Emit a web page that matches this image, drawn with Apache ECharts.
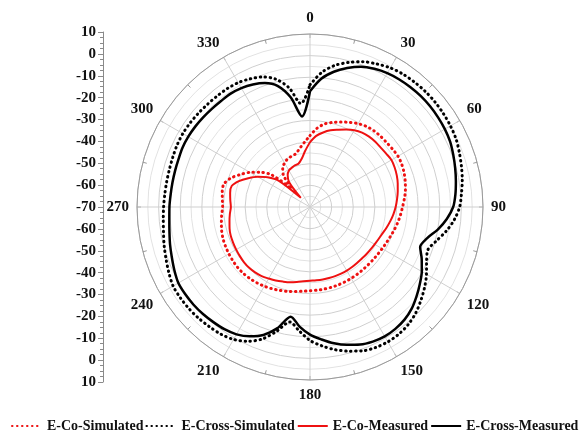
<!DOCTYPE html>
<html>
<head>
<meta charset="utf-8">
<script src="https://cdn.jsdelivr.net/npm/echarts@6/dist/echarts.min.js"></script>
<style>
  html, body { margin: 0; padding: 0; background: #fff; }
  #chart { width: 585px; height: 432px; }
</style>
</head>
<body>
<div id="chart"></div>
<script>
// angle in degrees, value in dB
const angles = [0, 5, 10, 15, 20, 25, 30, 35, 40, 45, 50, 55, 60, 65, 70, 75, 80, 85, 90,
    95, 100, 105, 110, 115, 120, 125, 130, 135, 140, 145, 150, 155, 160, 165, 170, 175, 180,
    185, 190, 195, 200, 205, 210, 215, 220, 225, 230, 235, 240, 245, 250, 255, 260, 265, 270,
    275, 280, 285, 290, 295, 300, 305, 310, 315, 320, 325, 330, 335, 340, 345, 350, 355, 360];

const eCoSimulated = [-37, -33.5, -31, -29.5, -28.2, -26.8, -25.5, -24.5, -24, -23.8, -23.7, -23.4, -23,
    -23.2, -23.7, -24.4, -25.2, -26.2, -27.2, -28, -28.8, -29.6, -30.4, -31, -31.5, -31.8, -32, -32.1,
    -32.1, -32, -31.9, -31.8, -31.7, -31.6, -31.5, -31.4, -31.3, -30.9, -30.3, -29.6, -29, -28.3, -27.7,
    -27.2, -26.8, -26.5, -26.4, -26.5, -26.7, -26.9, -27.2, -27.7, -28.4, -29, -29.6, -29.3, -28.8, -28.8,
    -31, -34.5, -38, -42, -47, -58, -51, -48, -46.5, -45.5, -45, -44.5, -42.5, -40, -37];

const eCrossSimulated = [-13.5, -7.5, -3.5, -0.8, 1.5, 3, 4.3, 5, 5.3, 5.5, 5.5, 5.3, 5, 4.5, 3.5, 2.5,
    1.5, 0.3, -0.8, -3, -6, -9.5, -12, -10.5, -7.8, -5.3, -3, -0.8, 0.8, 1.7, 2, 1.7, 0.8, -1, -3, -5.5,
    -8.3, -12.5, -16, -10.5, -5, -1.5, 0.7, 1.8, 2.3, 2.8, 3.1, 3.2, 3.1, 2, 0.8, -0.2, -1.2, -1.9, -2.3,
    -2.6, -2.7, -2.7, -2.5, -2.2, -2.1, -2.3, -2.6, -2.9, -3.1, -3.2, -3.6, -4.6, -6, -8.8, -14, -22, -13.5];

const eCoMeasured = [-40, -37, -35, -33.3, -32, -30.5, -29, -28, -27.5, -27.3, -27.3, -27, -26.5, -26.8,
    -27.3, -28, -28.8, -29.6, -30.4, -31.3, -32.3, -33.3, -34.3, -35, -35.5, -35.8, -36, -36.2, -36.2,
    -36.1, -36, -36, -36, -36, -36, -36, -35.9, -35.5, -34.8, -34, -33.3, -32.5, -31.8, -31, -30.5, -30.2,
    -30.2, -30.4, -30.6, -30.8, -31, -31.5, -32.2, -32.8, -33.4, -33, -32.5, -32.5, -35, -38.5, -42, -46,
    -51, -64, -55, -52, -50.5, -50, -49.5, -49.3, -47.5, -44, -40];

const eCrossMeasured = [-16.5, -10.5, -6.5, -3.5, -1, 0.5, 1.5, 2, 2.3, 2.5, 2.5, 2.3, 2, 1.5, 0.5, -0.5,
    -1.5, -2.5, -3.8, -6.5, -10, -14, -15.8, -13, -10.3, -8, -5.7, -3.5, -2, -1.2, -0.9, -1.3, -2.3, -4,
    -6, -8.5, -11, -14.5, -18.5, -12, -7, -4, -2, -1, -0.5, 0, 0.3, 0.4, 0.3, -0.8, -2, -3, -4, -4.7, -5,
    -5.3, -5.4, -5.4, -5.3, -5, -5, -5.2, -5.5, -5.8, -6, -6, -6.5, -7.5, -9, -12, -18.5, -28, -16.5];

const seriesNames = ['E-Co-Simulated', 'E-Cross-Simulated', 'E-Co-Measured', 'E-Cross-Measured'];

const serifFont = '"Liberation Serif", "Times New Roman", serif';
const red = '#ee1111';
const black = '#000000';

function polarPairs(values) {
    return values.map((v, i) => [v, angles[i]]);
}

function dottedSeries(name, values, color) {
    return {
        name: name,
        type: 'line',
        coordinateSystem: 'polar',
        smooth: 0.3,
        symbol: 'none',
        data: polarPairs(values),
        lineStyle: { color: color, width: 3, type: [0.5, 4.5], cap: 'round' },
        itemStyle: { color: color },
    };
}

function solidSeries(name, values, color, width) {
    return {
        name: name,
        type: 'line',
        coordinateSystem: 'polar',
        smooth: 0.3,
        symbol: 'none',
        data: polarPairs(values),
        lineStyle: { color: color, width: width },
        itemStyle: { color: color },
    };
}

const chart = echarts.init(document.getElementById('chart'), null, { renderer: 'canvas' });

const option = {
    animation: false,
    textStyle: { fontFamily: serifFont },
    polar: {
        center: [310, 207],
        radius: 173,
    },
    angleAxis: {
        type: 'value',
        min: 0,
        max: 360,
        interval: 30,
        startAngle: 90,
        clockwise: true,
        axisLine: { show: true, lineStyle: { color: '#9a9a9a', width: 1 } },
        axisTick: { show: true, inside: true, length: 4, lineStyle: { color: '#9a9a9a' } },
        minorTick: { show: true, splitNumber: 2, length: 4, lineStyle: { color: '#9a9a9a' } },
        axisLabel: {
            margin: 8,
            fontSize: 15,
            fontWeight: 'bold',
            color: '#111',
            fontFamily: serifFont,
            formatter: v => (v === 360 ? '' : String(v)),
        },
        splitLine: { show: true, lineStyle: { color: '#cfcfcf', width: 1 } },
    },
    radiusAxis: {
        type: 'value',
        min: -70,
        max: 10,
        interval: 10,
        axisLine: { show: false },
        axisTick: { show: false },
        axisLabel: { show: false },
        splitLine: { show: true, lineStyle: { color: '#cfcfcf', width: 1 } },
        minorSplitLine: { show: true, lineStyle: { color: '#e2e2e2', width: 1 } },
        minorTick: { show: false, splitNumber: 2 },
    },
    // separate linear scale on the left, mirrored about the centre
    grid: { left: 103, top: 32, width: 10, height: 350 },
    xAxis: { type: 'value', show: false, min: 0, max: 1 },
    yAxis: {
        type: 'value',
        min: 0,
        max: 160,
        interval: 10,
        position: 'left',
        axisLine: { show: true, lineStyle: { color: '#8a8a8a', width: 1 } },
        axisTick: { show: true, length: 5, lineStyle: { color: '#8a8a8a' } },
        minorTick: { show: true, splitNumber: 4, length: 3, lineStyle: { color: '#8a8a8a' } },
        splitLine: { show: false },
        axisLabel: {
            margin: 7,
            fontSize: 15,
            fontWeight: 'bold',
            color: '#111',
            fontFamily: serifFont,
            formatter: v => String(Math.abs(v - 80) - 70),
        },
    },
    legend: {
        data: seriesNames,
        left: 6,
        top: 414,
        width: 579,
        itemGap: 2,
        itemWidth: 30,
        itemHeight: 10,
        itemStyle: { opacity: 0 },
        textStyle: { fontSize: 14, fontWeight: 'bold', color: '#111', fontFamily: serifFont },
    },
    series: [
        dottedSeries(seriesNames[0], eCoSimulated, red),
        dottedSeries(seriesNames[1], eCrossSimulated, black),
        solidSeries(seriesNames[2], eCoMeasured, red, 2),
        solidSeries(seriesNames[3], eCrossMeasured, black, 2.5),
    ],
};

chart.setOption(option);
</script>
</body>
</html>
